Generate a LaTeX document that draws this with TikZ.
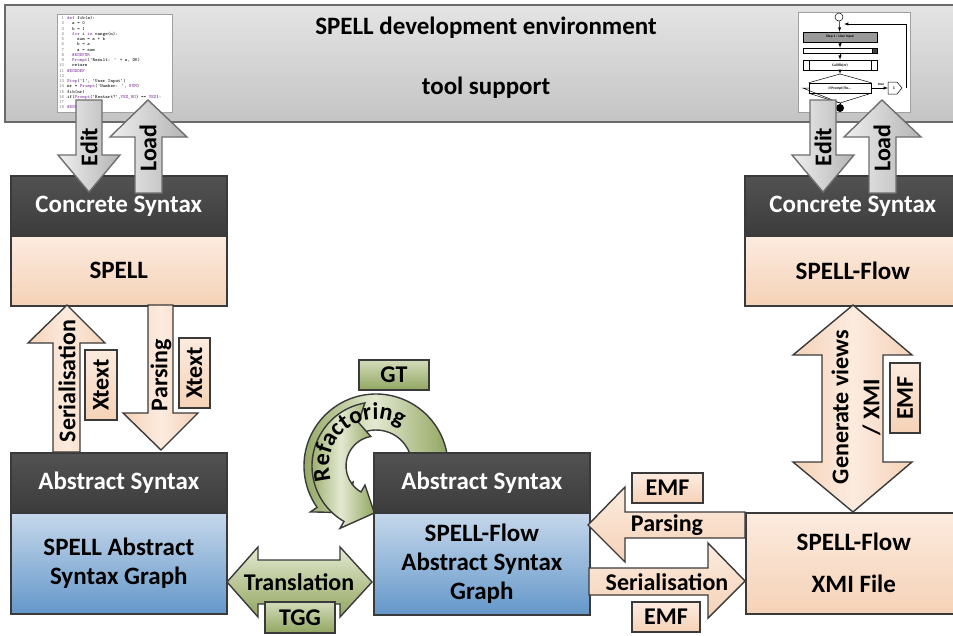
\documentclass[tikz,border=0pt]{standalone}
\usepackage{fontspec}
\setmainfont{Carlito}
\usetikzlibrary{decorations.text}

\definecolor{hdrtop}{HTML}{525252}
\definecolor{hdrbot}{HTML}{3C3C3C}
\definecolor{edge}{HTML}{3A3A3A}
\definecolor{peachA}{HTML}{FCEBDF}
\definecolor{peachB}{HTML}{F5D2B7}
\definecolor{blueA}{HTML}{C6D8EB}
\definecolor{blueB}{HTML}{6497C9}
\definecolor{greenA}{HTML}{E3E9D1}
\definecolor{greenB}{HTML}{92A661}
\definecolor{silverA}{HTML}{E4E4E4}
\definecolor{silverB}{HTML}{C4C4C4}
\definecolor{barline}{HTML}{6A6A6A}
\definecolor{snapline}{HTML}{A0A0A0}
\definecolor{kw}{HTML}{7B2E9E}
\definecolor{lnum}{HTML}{808080}
\definecolor{arrgrayA}{HTML}{EFEFEF}
\definecolor{arrgrayB}{HTML}{B4B4B4}
\definecolor{arrgrayline}{HTML}{6E6E6E}

% code listing helpers
\newcommand\cln[1]{\makebox[6pt][r]{\textcolor{lnum}{#1}}\hspace{3pt}}
\newcommand\ckw[1]{\textcolor{kw}{#1}}
\newcommand\cind{\hspace{5pt}}

\tikzset{
  txt/.style={font=\bfseries\fontsize{24}{28}\selectfont, inner sep=0pt},
  titletxt/.style={font=\bfseries\fontsize{25}{30}\selectfont, inner sep=0pt},
  envbar/.style={draw=barline, line width=1.5pt, top color=silverA, bottom color=silverB},
  snap/.style={draw=snapline, line width=0.6pt, fill=white},
  hdr/.style={draw=edge, line width=1.6pt, top color=hdrtop, bottom color=hdrbot,
    text=white, minimum width=216pt, minimum height=60pt, anchor=north west,
    font=\bfseries\fontsize{25}{30}\selectfont, inner sep=0pt},
  body/.style={draw=edge, line width=1.6pt, minimum width=216pt, anchor=north west,
    align=center, font=\bfseries\fontsize{25}{29}\selectfont, inner sep=0pt},
  peachfill/.style={top color=peachA, bottom color=peachB},
  bluefill/.style={top color=blueA, bottom color=blueB},
  xtag/.style={draw=edge, line width=1.4pt, top color=peachA, bottom color=peachB,
    inner sep=0pt, font=\bfseries\fontsize{24}{28}\selectfont},
  gtag/.style={draw=edge, line width=1.4pt, top color=greenA!80!greenB, bottom color=greenB,
    inner sep=0pt, font=\bfseries\fontsize{24}{28}\selectfont},
  grayarrow/.style={draw=arrgrayline, line width=1.4pt, left color=arrgrayA, right color=arrgrayB},
  peachv/.style={draw=edge, line width=1.4pt, left color=peachB, right color=peachB, middle color=peachA},
  peachh/.style={draw=edge, line width=1.4pt, top color=peachA, bottom color=peachB},
  greenarrow/.style={draw=edge, line width=1.4pt, top color=greenA, bottom color=greenB},
  greenring/.style={draw=edge, line width=1.4pt, left color=greenB, right color=greenB, middle color=greenA},
  fbox/.style={draw=black, line width=0.5pt, inner sep=0pt, font=\bfseries\fontsize{3.6}{4}\selectfont},
  fline/.style={draw=black, line width=0.5pt},
}

\begin{document}
\begin{tikzpicture}[x=1pt, y=-1pt]
\useasboundingbox (0,0) rectangle (953,635);
\clip (0,0) rectangle (953,635);

% ---------------- development environment bar ----------------
\draw[envbar] (5,5) rectangle (962,122);
\node[titletxt] (envtitle) at (486,28) {SPELL development environment};
\node[titletxt] (envtools) at (486,88) {tool support};

% textual editor snapshot
\draw[snap] (57,14) rectangle (172,112);
\node[anchor=north west, inner sep=0pt, align=left,
      font=\ttfamily\fontsize{4.8}{5.25}\selectfont] (code) at (58,16) {%
\cln{1}\ckw{def} fib(n):\\
\cln{2}\cind a = 0\\
\cln{3}\cind b = 1\\
\cln{4}\cind \ckw{for} i \ckw{in} range(n):\\
\cln{5}\cind\cind sum = a + b\\
\cln{6}\cind\cind b = a\\
\cln{7}\cind\cind a = sum\\
\cln{8}\cind \ckw{\#ENDFOR}\\
\cln{9}\cind \ckw{Prompt}('Result: ' + a, OK)\\
\cln{10}\cind return\\
\cln{11}\ckw{\#ENDDEF}\\
\cln{12}\\
\cln{13}\ckw{Step}('1', 'User Input')\\
\cln{14}nr = \ckw{Prompt}('Number: ', \ckw{NUM})\\
\cln{15}fib(nr)\\
\cln{16}if(\ckw{Prompt}('Restart?',\ckw{YES\_NO}) == \ckw{YES}):\\
\cln{17}\\
\cln{18}\ckw{\#ENDIF}};

% graphical editor snapshot
\draw[snap] (798,12) rectangle (910,112);
\node[fline, circle, fill=white, minimum size=8pt, inner sep=0pt] (fstart) at (839,17) {};
\node[fbox, fill=black!40, minimum width=74pt, minimum height=10pt] (fstep) at (840,37) {Step 1 : User Input};
\node[fbox, fill=white, minimum width=74pt, minimum height=5pt] (fbar) at (840,50.5) {};
\node[fbox, fill=black!75, minimum width=5pt, minimum height=5pt, anchor=east] (fbarend) at (fbar.east) {};
\node[fbox, fill=white, minimum width=74pt, minimum height=10pt] (fcall) at (840,65) {Call fib(nr)};
\draw[fline] ([xshift=6pt]fcall.north west) -- ([xshift=6pt]fcall.south west);
\draw[fline] ([xshift=-6pt]fcall.north east) -- ([xshift=-6pt]fcall.south east);
\coordinate (ftop) at (840,74);
\coordinate (fbot) at (840,103);
\node[fbox, fill=white, minimum width=62pt, minimum height=10pt] (fif) at (840,88) {if Prompt('Re...};
\draw[fline] (fif.north west) -- (ftop) -- (fif.north east);
\draw[fline] (fif.south west) -- (fbot) -- (fif.south east);
\draw[fline] (fif.west) -- ++(-6,0) -- (fbot);
\node[circle, fill=black, minimum size=8pt, inner sep=0pt] (fend) at (840,108) {};
\draw[fline, fill=white] (888,82) -- (897,82) -- (902,88) -- (897,94) -- (888,94) -- cycle;
\coordinate (fconn) at (888,88);
\node[font=\bfseries\fontsize{4}{4}\selectfont, inner sep=0pt] (fone) at (894,88) {1};
\draw[fline, -latex] (fif.east) -- (fconn);
\node[font=\bfseries\fontsize{3.6}{4}\selectfont, inner sep=0pt] (ftrue) at (881,84.5) {true};
\coordinate (floop) at (906,88);
\draw[fline, -latex] (floop) -- (906,24) -- (844,24);
\draw[fline, -latex] (fstart) -- (fstep);
\draw[fline, -latex] (fstep) -- (fbar);
\draw[fline, -latex] (fbar) -- (fcall);
\draw[fline, -latex] (fcall) -- (ftop);
\draw[fline] (fbot) -- (fend);

% ---------------- concrete syntax boxes ----------------
\node[hdr] (csLh) at (10,175) {Concrete Syntax};
\node[body, peachfill, minimum height=70pt] (csLb) at (10,235) {SPELL};
\node[hdr] (csRh) at (744,175) {Concrete Syntax};
\node[body, peachfill, minimum height=70pt] (csRb) at (744,235) {SPELL-Flow};

% Edit / Load arrows, left
\draw[grayarrow] (76,100) -- (102,100) -- (102,155) -- (120,155) -- (89,192) -- (58,155) -- (76,155) -- cycle;
\node[txt, rotate=90] (editL) at (89,147) {Edit};
\draw[grayarrow] (135,193) -- (135,137) -- (110,137) -- (148,100) -- (187,137) -- (162,137) -- (162,193) -- cycle;
\node[txt, rotate=90] (loadL) at (148,148) {Load};
% Edit / Load arrows, right
\draw[grayarrow] (810,100) -- (836,100) -- (836,155) -- (854,155) -- (823,192) -- (792,155) -- (810,155) -- cycle;
\node[txt, rotate=90] (editR) at (823,147) {Edit};
\draw[grayarrow] (869,193) -- (869,137) -- (844,137) -- (882,100) -- (921,137) -- (896,137) -- (896,193) -- cycle;
\node[txt, rotate=90] (loadR) at (882,148) {Load};

% ---------------- refactoring cycle ----------------
\begin{scope}[shift={(376,466)}, y=1pt]
  % upper band, running behind the abstract syntax box
  \draw[greenring] (5:72) arc[start angle=5, end angle=215, radius=72]
     -- (215:80) -- (240:54) -- (215:28) -- (215:36)
     arc[start angle=215, end angle=5, radius=36] -- cycle;
  % lower band with notched tail and head pointing into the box
  \draw[greenring] (100:64) arc[start angle=100, end angle=240, radius=64]
     -- (240:72) -- (268:47) -- (240:22) -- (240:30)
     arc[start angle=240, end angle=100, radius=30] -- (112:47) -- cycle;
  \path[decorate, decoration={text along path, text align=center,
        text={|\bfseries\fontsize{24}{28}\selectfont|Refactoring}}]
     (207:47) arc[start angle=207, end angle=48, radius=47];
\end{scope}
\node[gtag, minimum width=70pt, minimum height=30pt] (gt) at (394,375) {GT};

% ---------------- abstract syntax boxes ----------------
\node[hdr] (asLh) at (10,452) {Abstract Syntax};
\node[body, bluefill, minimum height=101pt] (asLb) at (10,512) {SPELL Abstract\\Syntax Graph};
\node[hdr] (asMh) at (373,452) {Abstract Syntax};
\node[body, bluefill, minimum height=102pt] (asMb) at (373,512) {SPELL-Flow\\Abstract Syntax\\Graph};
\node[body, peachfill, minimum height=101pt, font=\bfseries\fontsize{25}{42}\selectfont] (xmi) at (745,512) {SPELL-Flow\\XMI File};

% Serialisation / Parsing between SPELL and its abstract syntax
\draw[peachv] (53,452) -- (53,343) -- (28,343) -- (67,305) -- (105,343) -- (80,343) -- (80,452) -- cycle;
\node[txt, rotate=90] (serL) at (67,381) {Serialisation};
\node[xtag, rotate=90, minimum width=70pt, minimum height=32pt] (xtextA) at (101,385) {Xtext};
\draw[peachv] (148,305) -- (173,305) -- (173,413) -- (198,413) -- (161,450) -- (123,413) -- (148,413) -- cycle;
\node[txt, rotate=90] (parL) at (161,375) {Parsing};
\node[xtag, rotate=90, minimum width=70pt, minimum height=31pt] (xtextB) at (194.5,373) {Xtext};

% Generate views between SPELL-Flow and its XMI file
\draw[peachv] (822,355) -- (793,355) -- (853,305) -- (912,355) -- (883,355) -- (883,462)
   -- (912,462) -- (853,512) -- (793,462) -- (822,462) -- cycle;
\node[txt, rotate=90, align=center, font=\bfseries\fontsize{24}{31}\selectfont] (genv) at (856,407) {Generate views\\/ XMI};
\node[xtag, rotate=90, minimum width=70pt, minimum height=30pt] (emfV) at (905,398) {EMF};

% Translation between the two abstract syntax graphs
\draw[greenarrow] (258,560) -- (258,547) -- (227,582) -- (258,617) -- (258,604) -- (340,604)
   -- (340,617) -- (372,582) -- (340,547) -- (340,560) -- cycle;
\node[txt] (trans) at (299,582) {Translation};
\node[gtag, minimum width=70pt, minimum height=31pt] (tgg) at (300,617.5) {TGG};

% Parsing / Serialisation between XMI file and abstract syntax graph
\draw[peachh] (745,512) -- (625,512) -- (625,487) -- (588,525) -- (625,562) -- (625,538) -- (745,538) -- cycle;
\node[txt] (parR) at (667,525) {Parsing};
\node[xtag, minimum width=71pt, minimum height=30pt] (emfA) at (667.5,488) {EMF};
\draw[peachh] (589,568) -- (708,568) -- (708,543) -- (745,581) -- (708,618) -- (708,595) -- (589,595) -- cycle;
\node[txt] (serR) at (667,582) {Serialisation};
\node[xtag, minimum width=68pt, minimum height=30pt] (emfB) at (666,617) {EMF};
\end{tikzpicture}
\end{document}
